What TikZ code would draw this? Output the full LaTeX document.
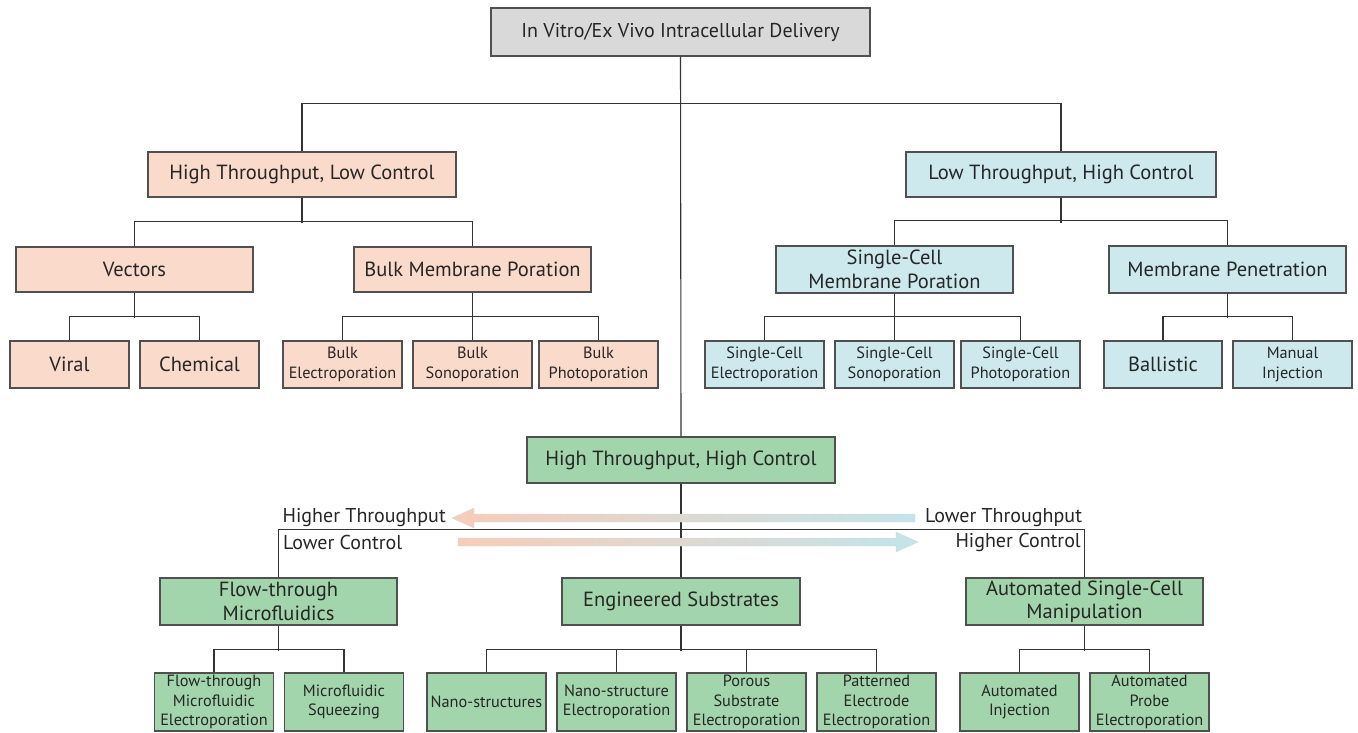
\documentclass[tikz,border=0pt]{standalone}
\usepackage{fontspec}
\setmainfont{PT Sans}
\definecolor{peach}{HTML}{FADACB}
\definecolor{lblue}{HTML}{CDE9EE}
\definecolor{lgreen}{HTML}{A3D5AC}
\definecolor{lgray}{HTML}{D9D9D9}
\definecolor{bord}{HTML}{505050}
\definecolor{linec}{HTML}{333333}
\definecolor{arrpeach}{HTML}{F7CDB9}
\definecolor{arrblue}{HTML}{C4E4EA}
\tikzset{
  box/.style={draw=bord, line width=1.4pt, inner sep=0pt, align=center, text=black!85},
  big/.style={box, font=\fontsize{20.5}{23.5}\selectfont},
  small/.style={box, font=\fontsize{16.3}{19.5}\selectfont, minimum width=119pt},
  pk/.style={fill=peach}, bl/.style={fill=lblue}, gr/.style={fill=lgreen},
  conn/.style={draw=linec, line width=1.1pt},
  lab/.style={font=\fontsize{20}{23}\selectfont, inner sep=0pt, text=black!85},
}
\begin{document}
\begin{tikzpicture}[x=1pt,y=-1pt]
\useasboundingbox (0,0) rectangle (1358,733);
% level 0
\node[box, font=\fontsize{20}{23}\selectfont, fill=lgray, minimum width=379pt, minimum height=48pt] (top) at (680.5,32) {In Vitro/Ex Vivo Intracellular Delivery};
% level 1
\node[big, pk, minimum width=308pt, minimum height=45pt] (htlc) at (302,174.5) {High Throughput, Low Control};
\node[big, bl, minimum width=310pt, minimum height=45pt] (lthc) at (1061,174.5) {Low Throughput, High Control};
% level 2
\node[big, pk, minimum width=237pt, minimum height=45pt] (vec) at (134.5,269.5) {Vectors};
\node[big, pk, minimum width=237pt, minimum height=45pt] (bmp) at (472.5,269.5) {Bulk Membrane Poration};
\node[big, bl, minimum width=237pt, minimum height=47pt] (scmp) at (894.5,269.5) {Single-Cell\\Membrane Poration};
\node[big, bl, minimum width=237pt, minimum height=47pt] (mp) at (1227.5,269.5) {Membrane Penetration};
% level 3
\node[big, pk, minimum width=119pt, minimum height=47pt] (viral) at (69.5,364.5) {Viral};
\node[big, pk, minimum width=119pt, minimum height=47pt] (chem) at (199.5,364.5) {Chemical};
\node[small, pk, minimum height=47pt] (be) at (342.5,364.5) {Bulk\\Electroporation};
\node[small, pk, minimum height=47pt] (bs) at (472.5,364.5) {Bulk\\Sonoporation};
\node[small, pk, minimum height=47pt] (bp) at (598.5,364.5) {Bulk\\Photoporation};
\node[small, bl, minimum height=47pt] (sce) at (764.5,364.5) {Single-Cell\\Electroporation};
\node[small, bl, minimum height=47pt] (scs) at (894.5,364.5) {Single-Cell\\Sonoporation};
\node[small, bl, minimum height=47pt] (scp) at (1020.5,364.5) {Single-Cell\\Photoporation};
\node[big, bl, minimum width=118pt, minimum height=47pt] (bal) at (1163,364.5) {Ballistic};
\node[small, bl, minimum height=47pt] (mi) at (1292.5,364.5) {Manual\\Injection};
% HTHC
\node[big, gr, minimum width=308pt, minimum height=46pt] (hthc) at (681,460) {High Throughput, High Control};
\node[big, gr, minimum width=237pt, minimum height=47pt] (ftm) at (278.5,601.5) {Flow-through\\Microfluidics};
\node[big, gr, minimum width=238pt, minimum height=47pt] (es) at (681,601.5) {Engineered Substrates};
\node[big, gr, minimum width=237pt, minimum height=47pt] (ascm) at (1084.5,601.5) {Automated Single-Cell\\Manipulation};
% bottom
\node[small, gr, minimum height=58pt] (ftme) at (214,702) {Flow-through\\Microfluidic\\Electroporation};
\node[small, gr, minimum height=58pt] (ms) at (344,702) {Microfluidic\\Squeezing};
\node[small, gr, minimum height=58pt] (ns) at (486.5,702) {Nano-structures};
\node[small, gr, minimum height=58pt] (nse) at (616.5,702) {Nano-structure\\Electroporation};
\node[small, gr, minimum height=58pt] (pse) at (746.5,702) {Porous\\Substrate\\Electroporation};
\node[small, gr, minimum height=58pt] (pee) at (876.5,702) {Patterned\\Electrode\\Electroporation};
\node[small, gr, minimum height=58pt] (ai) at (1019.5,702) {Automated\\Injection};
\node[small, gr, minimum height=58pt] (ape) at (1149.5,702) {Automated\\Probe\\Electroporation};
% connectors
\draw[conn] (top.south) -- (hthc.north);
\draw[conn] (htlc.north) -- ++(0,-48) -| (lthc.north);
\draw[conn] (htlc.south) -- ++(0,25);
\draw[conn] (vec.north) -- ++(0,-25) -| (bmp.north);
\draw[conn] (lthc.south) -- ++(0,25);
\draw[conn] (scmp.north) -- ++(0,-25) -| (mp.north);
\draw[conn] (vec.south) -- ++(0,25);
\draw[conn] (viral.north) -- ++(0,-24) -| (chem.north);
\draw[conn] (bmp.south) -- (bs.north);
\draw[conn] (be.north) -- ++(0,-24) -| (bp.north);
\draw[conn] (scmp.south) -- (scs.north);
\draw[conn] (sce.north) -- ++(0,-24) -| (scp.north);
\draw[conn] (mp.south) -- ++(0,24);
\draw[conn] (bal.north) -- ++(0,-24) -| (mi.north);
\draw[conn] (hthc.south) -- (es.north);
\draw[conn] (ftm.north) -- ++(0,-48) -| (ascm.north);
\draw[conn] (ftm.south) -- ++(0,25);
\draw[conn] (ftme.north) -- ++(0,-23) -| (ms.north);
\draw[conn] (es.south) -- ++(0,25);
\draw[conn] (ns.north) -- ++(0,-23) -| (pee.north);
\draw[conn] (nse.north) -- ++(0,-23);
\draw[conn] (pse.north) -- ++(0,-23);
\draw[conn] (ascm.south) -- ++(0,25);
\draw[conn] (ai.north) -- ++(0,-23) -| (ape.north);
% gradient arrows
\shade[left color=arrpeach, right color=arrblue, draw=arrblue!80!arrpeach, line width=0.4pt]
  (452,518) -- (474,508) -- (474,514) -- (915,514) -- (915,522) -- (474,522) -- (474,528) -- cycle;
\shade[left color=arrpeach, right color=arrblue, draw=arrblue!80!arrpeach, line width=0.4pt]
  (918,542) -- (896,532) -- (896,538) -- (458,538) -- (458,546) -- (896,546) -- (896,552) -- cycle;
\node[lab, anchor=east] (ht) at (446,518) {Higher Throughput};
\node[lab, anchor=west] (lt) at (925,518) {Lower Throughput};
\node[lab, anchor=west] (lc) at (283,542) {Lower Control};
\node[lab, anchor=east] (hc) at (1081,542) {Higher Control};
\end{tikzpicture}
\end{document}
